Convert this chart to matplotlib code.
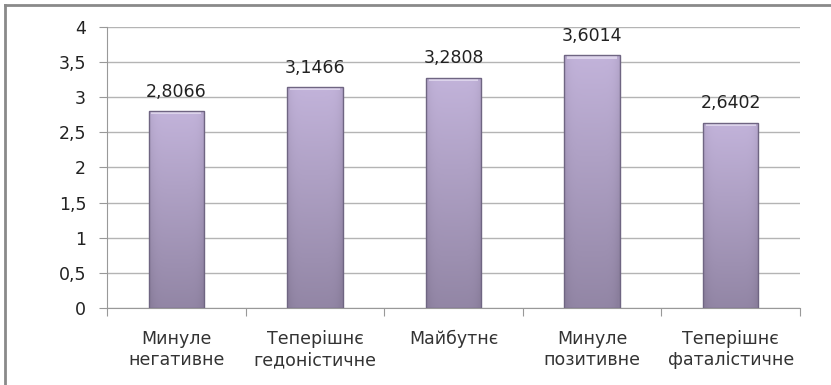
import matplotlib
matplotlib.use("Agg")
import matplotlib.pyplot as plt
import numpy as np
from matplotlib.colors import LinearSegmentedColormap
from matplotlib.lines import Line2D

plt.rcParams["font.family"] = ["DejaVu Sans"]

categories = ["Минуле\nнегативне", "Теперішнє\nгедоністичне", "Майбутнє",
              "Минуле\nпозитивне", "Теперішнє\nфаталістичне"]
values = [2.8066, 3.1466, 3.2808, 3.6014, 2.6402]
value_labels = ["2,8066", "3,1466", "3,2808", "3,6014", "2,6402"]
yticks = [0, 0.5, 1, 1.5, 2, 2.5, 3, 3.5, 4]
ytick_labels = ["0", "0,5", "1", "1,5", "2", "2,5", "3", "3,5", "4"]

fig = plt.figure(figsize=(8.31, 3.85), dpi=100)
ax = fig.add_axes([107 / 831, 77 / 385, 693 / 831, 281 / 385])

x = np.arange(len(values))
width = 0.4
bars = ax.bar(x, values, width=width, facecolor="none", edgecolor="#6f6582",
              linewidth=1.0, zorder=3)

# vertical gradient, darker toward the sides to mimic the bevel
cmap = LinearSegmentedColormap.from_list("lav", ["#8a7e9c", "#c2b3da"])
vert = np.linspace(0, 1, 200)[:, None]
horiz = np.linspace(-1, 1, 60)[None, :]
shade = vert * 0.85 + 0.15 - 0.25 * np.abs(horiz) ** 6
for b in bars:
    bx, by = b.get_x(), b.get_y()
    bw, bh = b.get_width(), b.get_height()
    im = ax.imshow(shade, cmap=cmap, vmin=0, vmax=1, origin="lower",
                   extent=[bx, bx + bw, by, by + bh], aspect="auto", zorder=2)
    im.set_clip_path(b)
    # light top bevel
    ax.fill_between([bx + 0.02, bx + bw - 0.02], by + bh - 0.05, by + bh - 0.005,
                    color="#e4dcf0", alpha=0.8, zorder=2.5, linewidth=0)

for xi, v, lab in zip(x, values, value_labels):
    ax.text(xi, v + 0.2, lab, ha="center", va="baseline", fontsize=12.5,
            color="#222222")

ax.set_xlim(-0.5, len(values) - 0.5)
ax.set_ylim(0, 4)
ax.set_yticks(yticks)
ax.set_yticklabels(ytick_labels, fontsize=12.5, color="#222222")
ax.set_xticks(np.arange(-0.5, len(values), 1.0))
ax.set_xticklabels([])
ax.set_xticks(x, minor=True)
ax.set_xticklabels(categories, minor=True, fontsize=12.5, color="#333333",
                   linespacing=1.2, va="top")
ax.tick_params(axis="x", which="minor", length=0, pad=16)
ax.tick_params(axis="x", which="major", length=6, color="#999999")
ax.tick_params(axis="y", length=6, color="#999999", pad=9)
ax.grid(axis="y", color="#b4b4b4", linewidth=1.0, zorder=0)
ax.set_axisbelow(True)
for s in ["top", "right"]:
    ax.spines[s].set_visible(False)
ax.spines["left"].set_color("#999999")
ax.spines["bottom"].set_color("#999999")

# outer chart frame (left and top edges visible)
fig.add_artist(Line2D([5 / 831, 5 / 831], [0, 1 - 5 / 385], color="#8a8a8a",
                      linewidth=2, transform=fig.transFigure))
fig.add_artist(Line2D([5 / 831, 1], [1 - 5 / 385, 1 - 5 / 385], color="#8a8a8a",
                      linewidth=2, transform=fig.transFigure))

fig.savefig("out.png", dpi=100)
